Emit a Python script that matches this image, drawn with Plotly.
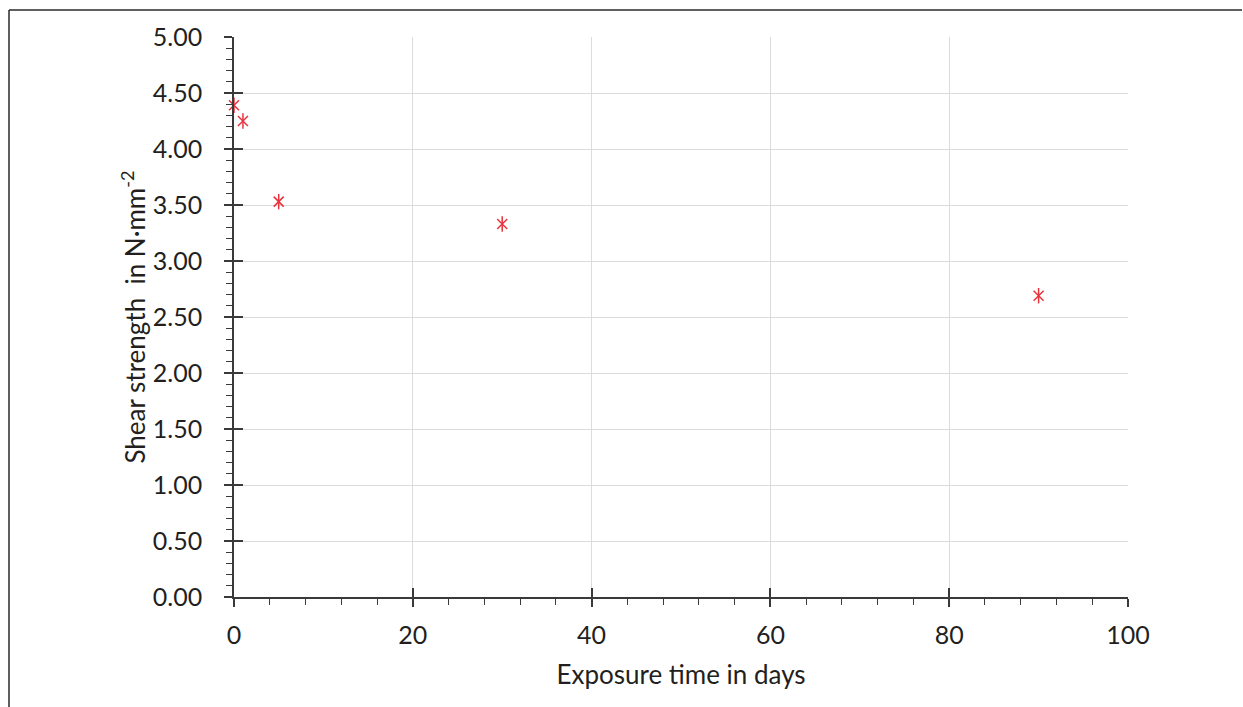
import plotly.graph_objects as go

# Data
exposure_days = [0, 1, 5, 30, 90]
shear_strength = [4.39, 4.25, 3.53, 3.33, 2.69]

x_ticks = [0, 20, 40, 60, 80, 100]
y_ticks = [0.0, 0.5, 1.0, 1.5, 2.0, 2.5, 3.0, 3.5, 4.0, 4.5, 5.0]
y_tick_labels = [f"{v:.2f}" for v in y_ticks]

RED = "#e8333c"
AXIS = "#3a3a3a"
GRID = "#dcdcdc"
TXT = "#231f20"
FONT = "Lato"
TICK_SIZE = 25
TITLE_SIZE = 26

fig = go.Figure()

# asterisk marker: X plus vertical stroke
fig.add_trace(go.Scatter(
    x=exposure_days, y=shear_strength, mode="markers", cliponaxis=False,
    marker=dict(symbol="x-thin-open", size=10, color=RED,
                line=dict(color=RED, width=1.5)),
    showlegend=False, hoverinfo="x+y"))
fig.add_trace(go.Scatter(
    x=exposure_days, y=shear_strength, mode="markers", cliponaxis=False,
    marker=dict(symbol="line-ns-open", size=11, color=RED,
                line=dict(color=RED, width=1.5)),
    showlegend=False, hoverinfo="skip"))

# invisible trace to carry overlay axes (inner halves of crossing ticks)
fig.add_trace(go.Scatter(
    x=[exposure_days[0]], y=[shear_strength[0]], xaxis="x2", yaxis="y2",
    mode="markers", marker=dict(opacity=0), showlegend=False, hoverinfo="skip"))

L, R, T, B = 234, 115, 37, 110
W, H = 1243, 707
pw, ph = W - L - R, H - T - B

fig.update_layout(
    width=W, height=H,
    margin=dict(l=L, r=R, t=T, b=B),
    paper_bgcolor="white", plot_bgcolor="white",
    font=dict(family=FONT, size=TICK_SIZE, color=TXT),
    xaxis=dict(
        range=[0, 100], tickvals=x_ticks, ticktext=[str(v) for v in x_ticks],
        showgrid=True, gridcolor=GRID, gridwidth=1,
        showline=True, linecolor=AXIS, linewidth=1.5,
        ticks="outside", ticklen=8, tickwidth=1.5, tickcolor=AXIS,
        ticklabelstandoff=7,
        minor=dict(dtick=4, ticks="outside", ticklen=6, tickwidth=1.2,
                   tickcolor=AXIS, showgrid=False),
        zeroline=False, tickfont=dict(size=TICK_SIZE, color=TXT),
        title=dict(text="Exposure time in days", standoff=18,
                   font=dict(size=TITLE_SIZE, color=TXT)),
    ),
    yaxis=dict(
        range=[0, 5], tickvals=y_ticks, ticktext=y_tick_labels,
        showgrid=True, gridcolor=GRID, gridwidth=1,
        showline=True, linecolor=AXIS, linewidth=1.5,
        ticks="outside", ticklen=8, tickwidth=1.5, tickcolor=AXIS,
        ticklabelstandoff=17,
        minor=dict(dtick=0.1, ticks="outside", ticklen=6, tickwidth=1.2,
                   tickcolor=AXIS, showgrid=False),
        zeroline=False, tickfont=dict(size=TICK_SIZE, color=TXT),
        title=dict(text="Shear strength  in N·mm<sup>-2</sup>", standoff=0,
                   font=dict(size=TITLE_SIZE, color=TXT)),
    ),
    xaxis2=dict(range=[0, 100], overlaying="x", anchor="y2", side="bottom",
                tickvals=x_ticks, showticklabels=False, showgrid=False,
                showline=False, zeroline=False,
                ticks="inside", ticklen=9, tickwidth=1.5, tickcolor=AXIS),
    yaxis2=dict(range=[0, 5], overlaying="y", anchor="x2", side="left",
                tickvals=y_ticks, showticklabels=False, showgrid=False,
                showline=False, zeroline=False,
                ticks="inside", ticklen=9, tickwidth=1.5, tickcolor=AXIS),
)

# outer frame (left and top edges) in paper coordinates
fx = (9 - L) / pw
fy_top = 1 + (T - 10) / ph
fy_bot = -(B) / ph
fx_right = 1 + (R - 1) / pw
fig.add_shape(type="line", xref="paper", yref="paper",
              x0=fx, x1=fx, y0=fy_bot, y1=fy_top,
              line=dict(color="#2a2a2a", width=1.5))
fig.add_shape(type="line", xref="paper", yref="paper",
              x0=fx, x1=fx_right, y0=fy_top, y1=fy_top,
              line=dict(color="#2a2a2a", width=1.5))

fig.write_html("out.html",
               config={"displayModeBar": False},
               post_script="document.body.style.margin='0';"
                           "document.body.style.overflow='hidden';")
